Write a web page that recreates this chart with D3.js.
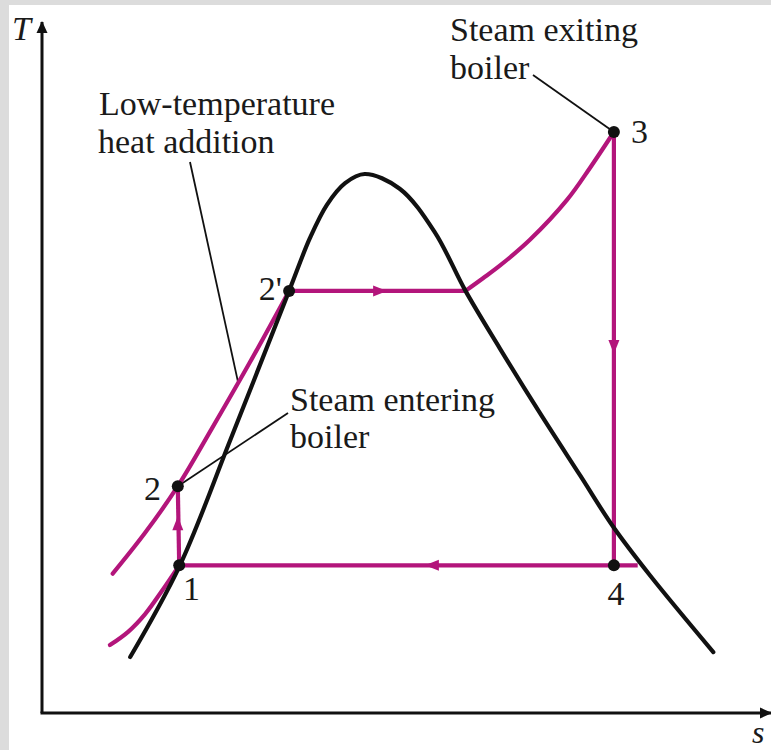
<!DOCTYPE html>
<html>
<head>
<meta charset="utf-8">
<script src="https://cdn.jsdelivr.net/npm/d3@7.9.0/dist/d3.min.js"></script>
<style>
  html, body { margin: 0; padding: 0; background: #dcdcdc; }
  svg { display: block; }
</style>
</head>
<body>
<svg id="chart"></svg>
<script>
// chart units: entropy s (0..10.4), temperature T (0..10.2), arbitrary

// saturation dome
const domeS = [1.26, 1.97, 2.69, 3.53, 3.83, 4.07, 4.33, 4.61, 5.11, 5.61, 6.05, 6.54, 7.11, 7.69, 8.16, 8.69, 9.59];
const domeT = [0.80, 2.11, 3.90, 6.03, 6.79, 7.26, 7.57, 7.70, 7.49, 6.87, 6.03, 5.21, 4.29, 3.39, 2.66, 1.96, 0.87];

// high pressure liquid line (through 2 to 2')
const hiLiqS = [1.01, 1.47, 1.94, 2.43, 2.97, 3.53];
const hiLiqT = [1.99, 2.57, 3.24, 4.07, 5.01, 6.03];

// low pressure liquid line (up to 1)
const loLiqS = [0.97, 1.23, 1.47, 1.71, 1.96];
const loLiqT = [0.97, 1.16, 1.41, 1.74, 2.11];

// superheat part of high pressure line (sat. vapour to 3)
const superS = [6.05, 6.30, 6.54, 6.97, 7.50, 7.83, 8.17];
const superT = [6.03, 6.21, 6.39, 6.76, 7.33, 7.79, 8.30];

// state points
const stateNames = ["1", "2", "2'", "3", "4"];
const stateS = [1.96, 1.94, 3.53, 8.17, 8.17];
const stateT = [2.11, 3.24, 6.03, 8.30, 2.11];

// end of boiling line / end of the condenser line where they meet the dome
const satVapHiS = 6.05;
const condEndS = 8.51;

const zip = (a, b) => a.map((v, i) => [v, b[i]]);

const width = 771, height = 750;
const x = d3.scaleLinear().domain([0, 10]).range([42, 742]);
const y = d3.scaleLinear().domain([0, 10]).range([713, 13]);

const magenta = "#b3157b";
const ink = "#111";
const font = "Liberation Serif, Times New Roman, serif";

const svg = d3.select("#chart")
    .attr("width", width)
    .attr("height", height);

// white panel inside the grey frame
svg.append("rect")
    .attr("x", 9).attr("y", 5)
    .attr("width", width - 9).attr("height", height - 5)
    .attr("fill", "#fff");

const defs = svg.append("defs");
defs.append("marker")
    .attr("id", "axisArrow")
    .attr("viewBox", "0 0 12 12")
    .attr("refX", 11).attr("refY", 6)
    .attr("markerWidth", 12).attr("markerHeight", 12)
    .attr("markerUnits", "userSpaceOnUse")
    .attr("orient", "auto")
    .append("path")
    .attr("d", "M0,0.5 L12,6 L0,11.5 Z")
    .attr("fill", ink);

// axes
const sMax = x.invert(771), tMax = y.invert(22);
svg.append("line")
    .attr("x1", x(0)).attr("y1", y(0))
    .attr("x2", x(0)).attr("y2", y(tMax))
    .attr("stroke", ink).attr("stroke-width", 3)
    .attr("marker-end", "url(#axisArrow)");
svg.append("line")
    .attr("x1", x(0) - 1.5).attr("y1", y(0))
    .attr("x2", x(sMax)).attr("y2", y(0))
    .attr("stroke", ink).attr("stroke-width", 3)
    .attr("marker-end", "url(#axisArrow)");

svg.append("text")
    .attr("x", 12).attr("y", 40)
    .attr("font-family", font)
    .attr("font-style", "italic")
    .attr("font-size", 34)
    .attr("fill", "#1a1a1a")
    .text("T");
svg.append("text")
    .attr("x", 752).attr("y", 743)
    .attr("font-family", font)
    .attr("font-style", "italic")
    .attr("font-size", 32)
    .attr("fill", "#1a1a1a")
    .text("s");

const curve = d3.line()
    .x(d => x(d[0]))
    .y(d => y(d[1]))
    .curve(d3.curveCatmullRom.alpha(0.5));

// leader lines (drawn under the curves)
const leaders = [
    { from: [x.invert(190), y.invert(162)], to: [2.80, 4.73] },
    { from: [x.invert(288), y.invert(413)], to: [stateS[1], stateT[1]] },
    { from: [x.invert(533), y.invert(75)], to: [stateS[3], stateT[3]] }
];
svg.selectAll(".leader")
    .data(leaders)
    .enter()
    .append("line")
    .attr("class", "leader")
    .attr("x1", d => x(d.from[0])).attr("y1", d => y(d.from[1]))
    .attr("x2", d => x(d.to[0])).attr("y2", d => y(d.to[1]))
    .attr("stroke", ink)
    .attr("stroke-width", 1.8);

// magenta process lines
const lines = [
    zip(loLiqS, loLiqT),
    zip(hiLiqS, hiLiqT),
    zip(superS, superT)
];
svg.selectAll(".proc")
    .data(lines)
    .enter()
    .append("path")
    .attr("class", "proc")
    .attr("d", curve)
    .attr("fill", "none")
    .attr("stroke", magenta)
    .attr("stroke-width", 4.2)
    .attr("stroke-linecap", "round");

// straight legs of the cycle
const legs = [
    [[stateS[0], stateT[0]], [stateS[1], stateT[1]]],       // 1 -> 2
    [[stateS[2], stateT[2]], [satVapHiS, stateT[2]]],       // 2' -> sat vapour
    [[stateS[3], stateT[3]], [stateS[4], stateT[4]]],       // 3 -> 4
    [[stateS[0], stateT[0]], [condEndS, stateT[0]]]         // 1 ... 4 line
];
svg.selectAll(".leg")
    .data(legs)
    .enter()
    .append("line")
    .attr("class", "leg")
    .attr("x1", d => x(d[0][0])).attr("y1", d => y(d[0][1]))
    .attr("x2", d => x(d[1][0])).attr("y2", d => y(d[1][1]))
    .attr("stroke", magenta)
    .attr("stroke-width", 4.2);

// direction arrows on the legs: position + angle (deg, 0 = right)
const arrowS = [1.94, 4.83, 8.17, 5.57];
const arrowT = [2.71, 6.03, 5.23, 2.11];
const arrowDir = [-90, 0, 90, 180];
svg.selectAll(".dir")
    .data(arrowS.map((s, i) => ({ s, t: arrowT[i], a: arrowDir[i] })))
    .enter()
    .append("path")
    .attr("class", "dir")
    .attr("d", "M7,0 L-7,-5.5 L-7,5.5 Z")
    .attr("transform", d => `translate(${x(d.s)},${y(d.t)}) rotate(${d.a})`)
    .attr("fill", magenta);

// saturation dome
svg.append("path")
    .datum(zip(domeS, domeT))
    .attr("d", curve)
    .attr("fill", "none")
    .attr("stroke", ink)
    .attr("stroke-width", 4.2)
    .attr("stroke-linecap", "round");

// state points
svg.selectAll(".state")
    .data(stateS.map((s, i) => [s, stateT[i]]))
    .enter()
    .append("circle")
    .attr("class", "state")
    .attr("cx", d => x(d[0]))
    .attr("cy", d => y(d[1]))
    .attr("r", 6)
    .attr("fill", ink);

// labels
const labelText = [
    { t: stateNames[0], px: 183, py: 600, anchor: "start" },
    { t: stateNames[1], px: 161, py: 500, anchor: "end" },
    { t: stateNames[2], px: 282, py: 300, anchor: "end" },
    { t: stateNames[3], px: 631, py: 143, anchor: "start" },
    { t: stateNames[4], px: 616, py: 605, anchor: "middle" },
    { t: "Low-temperature", px: 99, py: 115, anchor: "start" },
    { t: "heat addition", px: 98, py: 153, anchor: "start" },
    { t: "Steam entering", px: 290, py: 411, anchor: "start" },
    { t: "boiler", px: 290, py: 448, anchor: "start" },
    { t: "Steam exiting", px: 450, py: 41, anchor: "start" },
    { t: "boiler", px: 450, py: 79, anchor: "start" }
];
svg.selectAll(".lbl")
    .data(labelText)
    .enter()
    .append("text")
    .attr("class", "lbl")
    .attr("x", d => d.px)
    .attr("y", d => d.py)
    .attr("text-anchor", d => d.anchor)
    .attr("font-family", font)
    .attr("font-size", 34)
    .attr("fill", "#1a1a1a")
    .text(d => d.t);
</script>
</body>
</html>
